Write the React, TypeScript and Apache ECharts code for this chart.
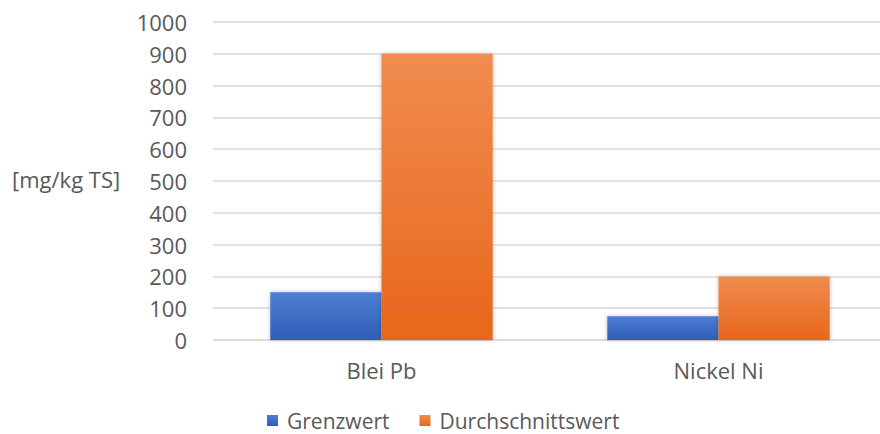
import React, { useEffect, useRef } from "react";
import * as echarts from "echarts";

const categories = ["Blei Pb", "Nickel Ni"];
const grenzwert = [150, 75];
const durchschnittswert = [900, 200];
const seriesNames = ["Grenzwert", "Durchschnittswert"];
const yTicks = { min: 0, max: 1000, interval: 100 };

const FONT = "Open Sans";
const TXT = "#595959";
const FS = 22;

export default function App() {
  const ref = useRef<HTMLDivElement>(null);
  useEffect(() => {
    if (!ref.current) return;
    const chart = echarts.init(ref.current, null, { renderer: "svg" });
    const grad = (top: string, bottom: string) =>
      new echarts.graphic.LinearGradient(0, 0, 0, 1, [
        { offset: 0, color: top },
        { offset: 1, color: bottom },
      ]);
    chart.setOption({
      animation: false,
      backgroundColor: "#ffffff",
      textStyle: { fontFamily: FONT },
      grid: { left: 213, right: 15, top: 22, bottom: 94, containLabel: false },
      legend: {
        top: 405,
        left: 262,
        itemWidth: 11,
        itemHeight: 11,
        itemGap: 30,
        icon: "rect",
        textStyle: { fontFamily: FONT, fontSize: 21, color: TXT, padding: [0, 0, 0, 4] },
        data: seriesNames,
      },
      graphic: [
        {
          type: "text",
          left: 12,
          top: 168,
          style: { text: "[mg/kg TS]", fontFamily: FONT, fontSize: FS, fill: TXT },
        },
      ],
      xAxis: {
        type: "category",
        data: categories,
        axisLine: { lineStyle: { color: "#d9d9d9", width: 1.5 } },
        axisTick: { show: false },
        axisLabel: { fontFamily: FONT, fontSize: FS, color: TXT, margin: 19 },
      },
      yAxis: {
        type: "value",
        min: yTicks.min,
        max: yTicks.max,
        interval: yTicks.interval,
        axisLine: { show: false },
        axisTick: { show: false },
        splitLine: { lineStyle: { color: "#d9d9d9", width: 1.5 } },
        axisLabel: {
          fontFamily: FONT,
          fontSize: FS,
          color: TXT,
          margin: 26,
          formatter: (v: number) => String(v),
        },
      },
      series: [
        {
          name: seriesNames[0],
          type: "bar",
          data: grenzwert,
          barGap: "0%",
          barCategoryGap: "34%",
          itemStyle: {
            color: grad("#4d7fd3", "#2e5db6"),
            shadowColor: "rgba(0,0,0,0.25)",
            shadowBlur: 4,
          },
        },
        {
          name: seriesNames[1],
          type: "bar",
          data: durchschnittswert,
          itemStyle: {
            color: grad("#f08c50", "#e8661a"),
            shadowColor: "rgba(0,0,0,0.25)",
            shadowBlur: 4,
          },
        },
      ],
    });
    return () => chart.dispose();
  }, []);
  return (
    <div style={{ position: "fixed", left: 0, top: 0, width: 880, height: 434, overflow: "hidden", background: "#fff" }}>
      <div ref={ref} style={{ width: 902, height: 434 }} />
    </div>
  );
}
